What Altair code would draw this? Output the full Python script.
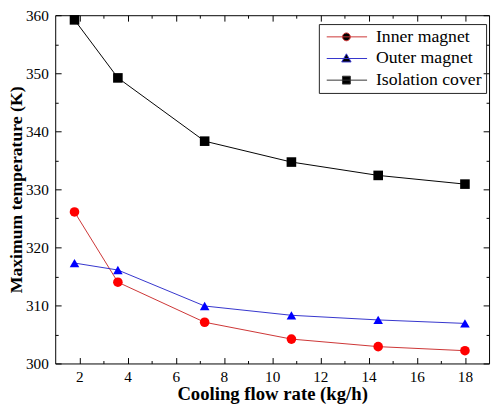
import altair as alt
import pandas as pd

# ---- data ----
flow = [1.8, 3.6, 7.2, 10.8, 14.4, 18.0]
inner_magnet = [326.1, 314.0, 307.1, 304.2, 302.9, 302.2]
outer_magnet = [317.3, 316.1, 309.9, 308.3, 307.5, 306.9]
isolation_cover = [359.2, 349.2, 338.3, 334.7, 332.4, 330.9]

series_names = ["Inner magnet", "Outer magnet", "Isolation cover"]
x_major = [2, 4, 6, 8, 10, 12, 14, 16, 18]
x_minor = [3, 5, 7, 9, 11, 13, 15, 17]
y_major = [300, 310, 320, 330, 340, 350, 360]
y_minor = [305, 315, 325, 335, 345, 355]

rows = []
for name, vals in zip(series_names, [inner_magnet, outer_magnet, isolation_cover]):
    for xv, yv in zip(flow, vals):
        rows.append({"x": xv, "temp": yv, "series": name, "legend": name})
df = pd.DataFrame(rows)

W, H = 441, 354
FONT = "Liberation Serif"

point_colors = ["#ff0000", "#0000ff", "#000000"]
line_colors = ["#cc3333", "#3333cc", "#000000"]
legend_line_colors = ["#cc3333", "#3333cc", "#333333"]
shapes = ["circle", "triangle-up", "square"]
legend_shapes = [
    "M-1,0L7.2,0M3.8,0A0.8,0.8,0,1,1,2.2,0A0.8,0.8,0,1,1,3.8,0Z",
    "M-1,0L7.2,0M3,-0.95L3.95,0.7L2.05,0.7Z",
    "M-1,0L7.2,0M2.2,-0.8L3.8,-0.8L3.8,0.8L2.2,0.8Z",
]

xs = alt.Scale(domain=[1, 19], nice=False, zero=False)
ys = alt.Scale(domain=[300, 360], nice=False, zero=False)

base = alt.Chart(df)


def axis_layer(xaxis, yaxis):
    return base.mark_point(opacity=0).encode(
        x=alt.X("x:Q", scale=xs, axis=xaxis),
        y=alt.Y("temp:Q", scale=ys, axis=yaxis),
    )


common = dict(grid=False, tickColor="black", tickWidth=1, labelColor="black")

label_layer = axis_layer(
    alt.Axis(orient="bottom", values=x_major, title="Cooling flow rate (kg/h)",
             ticks=False, domain=False, labelPadding=6, labelFont=FONT,
             labelFontSize=15.5, titleFont=FONT, titleFontSize=19,
             titleFontWeight="bold", titleColor="black",
             titleBaseline="alphabetic", titleY=37, **common),
    alt.Axis(orient="left", values=y_major, title="Maximum temperature (K)",
             ticks=False, domain=False, labelPadding=7, labelFont=FONT,
             labelFontSize=15.5, titleFont=FONT, titleFontSize=18,
             titleFontWeight="bold", titleColor="black",
             titleBaseline="alphabetic", titleX=-34, **common),
)
in_major_bl = axis_layer(
    alt.Axis(orient="top", offset=-H, values=x_major, labels=False, domain=False,
             tickSize=6, title=None, **common),
    alt.Axis(orient="right", offset=-W, values=y_major, labels=False, domain=False,
             tickSize=6, title=None, **common),
)
in_minor_bl = axis_layer(
    alt.Axis(orient="top", offset=-H, values=x_minor, labels=False, domain=False,
             tickSize=3, title=None, **common),
    alt.Axis(orient="right", offset=-W, values=y_minor, labels=False, domain=False,
             tickSize=3, title=None, **common),
)
in_major_tr = axis_layer(
    alt.Axis(orient="bottom", offset=-H, values=x_major, labels=False, domain=False,
             tickSize=6, title=None, **common),
    alt.Axis(orient="left", offset=-W, values=y_major, labels=False, domain=False,
             tickSize=6, title=None, **common),
)
in_minor_tr = axis_layer(
    alt.Axis(orient="bottom", offset=-H, values=x_minor, labels=False, domain=False,
             tickSize=3, title=None, **common),
    alt.Axis(orient="left", offset=-W, values=y_minor, labels=False, domain=False,
             tickSize=3, title=None, **common),
)

lines = base.mark_line(strokeWidth=1).encode(
    x=alt.X("x:Q", scale=xs, axis=None),
    y=alt.Y("temp:Q", scale=ys, axis=None),
    stroke=alt.Stroke("series:N", scale=alt.Scale(domain=series_names, range=line_colors), legend=None),
    detail="series:N",
)

points = base.mark_point(filled=True, size=95, opacity=1).encode(
    x=alt.X("x:Q", scale=xs, axis=None),
    y=alt.Y("temp:Q", scale=ys, axis=None),
    color=alt.Color("series:N", scale=alt.Scale(domain=series_names, range=point_colors), legend=None),
    shape=alt.Shape("series:N", scale=alt.Scale(domain=series_names, range=shapes), legend=None),
)

legend_layer = base.transform_filter("datum.x > 1000").mark_point(
    filled=True, size=100, opacity=1, strokeWidth=1
).encode(
    x=alt.X("x:Q", scale=xs, axis=None),
    y=alt.Y("temp:Q", scale=ys, axis=None),
    fill=alt.Fill("legend:N", scale=alt.Scale(domain=series_names, range=point_colors),
                  legend=alt.Legend(title=None)),
    stroke=alt.Stroke("legend:N", scale=alt.Scale(domain=series_names, range=legend_line_colors),
                      legend=alt.Legend(title=None)),
    shape=alt.Shape("legend:N", scale=alt.Scale(domain=series_names, range=legend_shapes),
                    legend=alt.Legend(title=None)),
)

chart = alt.layer(
    label_layer, in_major_bl, in_minor_bl, in_major_tr, in_minor_tr,
    lines, points, legend_layer,
).resolve_axis(
    x="independent", y="independent"
).resolve_scale(
    shape="independent", stroke="independent"
).properties(
    width=W, height=H,
    autosize=alt.AutoSizeParams(type="none"),
    padding={"left": 48, "top": 4, "right": 3, "bottom": 46},
).configure_view(
    stroke="black", strokeWidth=1
).configure_legend(
    orient="none", legendX=268, legendY=9,
    strokeColor="#222222", padding=4, labelFont=FONT, labelFontSize=18,
    labelColor="black", labelOffset=36, rowPadding=4, symbolSize=100,
    symbolStrokeWidth=1, labelLimit=300,
)

chart.save("out.html", embed_options={"renderer": "svg", "actions": False})
